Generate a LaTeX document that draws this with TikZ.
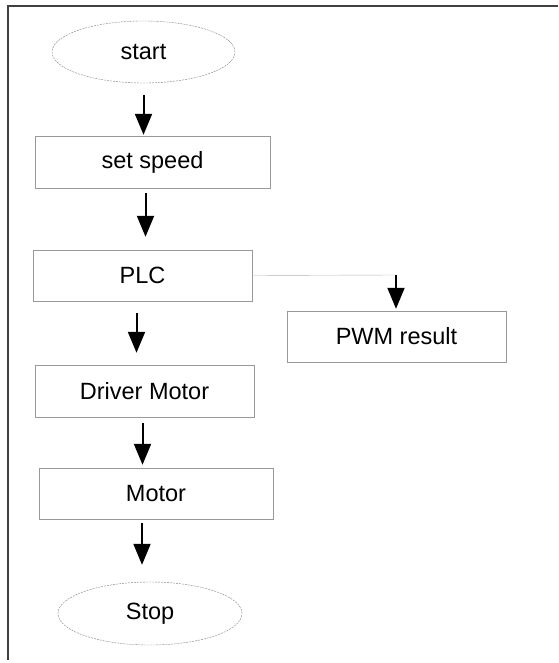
\documentclass[tikz,border=0pt]{standalone}
\usepackage{fontspec}
\setmainfont{Liberation Sans}
\usetikzlibrary{arrows.meta}
\usetikzlibrary{shapes.geometric}

\begin{document}
\begin{tikzpicture}[x=1pt,y=-1pt,font=\fontsize{23.5}{27}\selectfont,
  terminal/.style={draw=gray,dashed,thin,ellipse,inner sep=0pt,dash pattern=on 2pt off 1pt},
  stepbox/.style={draw=gray!80,thin,rectangle,inner sep=0pt},
  arr/.style={line width=2pt,-{Triangle[width=17pt,length=21pt]}}]
  \useasboundingbox (0,0) rectangle (558,663);
  %frame
  \draw[line width=1.2pt,black!75] (558,6) -- (8,6) -- (8,660);
  %main column
  \node[terminal,minimum width=183pt,minimum height=62pt] (start) at (143.5,52) {start};
  \node[stepbox,minimum width=235pt,minimum height=52pt] (speed) at (152.5,162) {set speed};
  \node[stepbox,minimum width=219pt,minimum height=51pt] (plc) at (142.5,275.5) {PLC};
  \node[stepbox,minimum width=219pt,minimum height=52pt] (driver) at (144.5,391) {Driver Motor};
  \node[stepbox,minimum width=234pt,minimum height=51pt] (motor) at (156,493.5) {Motor};
  \node[terminal,minimum width=184pt,minimum height=63pt] (stop) at (150,613.5) {Stop};
  %side branch
  \node[stepbox,minimum width=219pt,minimum height=51pt] (pwm) at (396.5,336.5) {PWM result};
  \coordinate (bend) at (396,275);
  %arrows
  \draw[arr] ([yshift=-12pt]start.south) -- ([yshift=1pt]start.south |- speed.north);
  \draw[arr] ([xshift=-7pt,yshift=-5pt]speed.south) -- ([xshift=-7pt,yshift=13pt]speed.south |- plc.north);
  \draw[arr] ([xshift=-6pt,yshift=-12pt]plc.south) -- ([xshift=-6pt,yshift=12pt]plc.south |- driver.north);
  \draw[arr] ([xshift=-2pt,yshift=-6pt]driver.south) -- ([xshift=-2pt,yshift=3pt]driver.south |- motor.north);
  \draw[arr] ([xshift=-14pt,yshift=-4pt]motor.south) -- ([xshift=-14pt,yshift=17pt]motor.south |- stop.north);
  \draw[gray!60,thin] (plc.east) -- (bend);
  \draw[arr] (bend) -- ([yshift=2pt]bend |- pwm.north);
\end{tikzpicture}
\end{document}
